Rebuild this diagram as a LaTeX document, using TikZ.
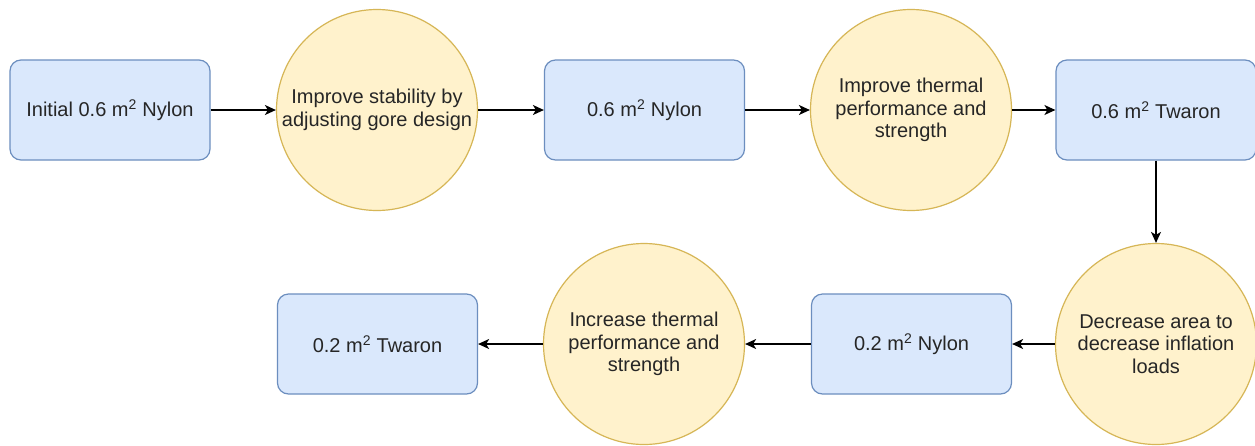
\documentclass[tikz,border=0pt]{standalone}
\usepackage{fontspec}
\setmainfont{Liberation Sans}
\usetikzlibrary{arrows.meta}
\definecolor{bfill}{HTML}{DAE8FC}
\definecolor{bdraw}{HTML}{6C8EBF}
\definecolor{yfill}{HTML}{FFF2CC}
\definecolor{ydraw}{HTML}{D6B656}
\definecolor{txt}{HTML}{262626}
\begin{document}
\begin{tikzpicture}[x=1pt,y=1pt,
  box/.style={draw=bdraw,fill=bfill,line width=1.2pt,rounded corners=11pt,minimum width=200pt,minimum height=100pt,inner sep=0pt,align=center,text=txt,font=\fontsize{20}{22.5}\selectfont},
  circ/.style={draw=ydraw,fill=yfill,line width=1.2pt,circle,minimum size=201pt,inner sep=0pt,align=center,text=txt,font=\fontsize{20}{22.5}\selectfont},
  conn/.style={line width=1.5pt,-{Stealth[length=11pt,width=10pt,inset=3pt]}}]
\useasboundingbox (0,0) rectangle (1255,-445);
\fill[white] (0,0) rectangle (1255,-445);
\node[box] (b1) at (110,-110) {Initial 0.6 m\textsuperscript{2} Nylon};
\node[circ] (c1) at (377,-110) {Improve stability by\\adjusting gore design};
\node[box] (b2) at (644.5,-110) {0.6 m\textsuperscript{2} Nylon};
\node[circ] (c2) at (911,-110) {Improve thermal\\performance and\\strength};
\node[box] (b3) at (1156,-110) {0.6 m\textsuperscript{2} Twaron};
\node[circ] (c3) at (1156,-344) {Decrease area to\\decrease inflation\\loads};
\node[box] (b4) at (911.5,-344) {0.2 m\textsuperscript{2} Nylon};
\node[circ] (c4) at (644,-344) {Increase thermal\\performance and\\strength};
\node[box] (b5) at (377.5,-344) {0.2 m\textsuperscript{2} Twaron};
\draw[conn] (b1.east) -- (c1.west);
\draw[conn] (c1.east) -- (b2.west);
\draw[conn] (b2.east) -- (c2.west);
\draw[conn] (c2.east) -- (b3.west);
\draw[conn] (b3.south) -- (c3.north);
\draw[conn] (c3.west) -- (b4.east);
\draw[conn] (b4.west) -- (c4.east);
\draw[conn] (c4.west) -- (b5.east);
\end{tikzpicture}
\end{document}
